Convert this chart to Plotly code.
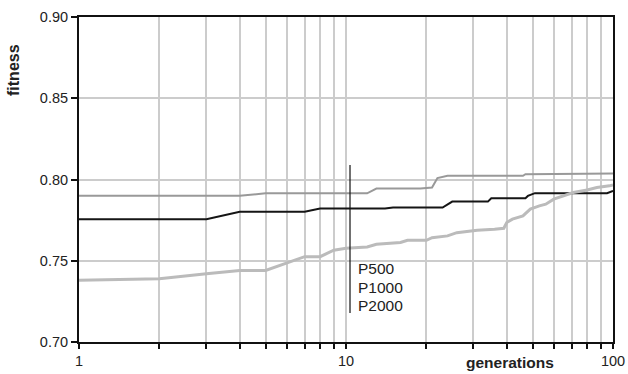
import plotly.graph_objects as go

# ---- data ----
gen_p500 = [1, 4, 5, 12, 13, 19, 21, 22, 24, 46, 47, 73, 74, 100]
fit_p500 = [0.790, 0.790, 0.7915, 0.7915, 0.7944, 0.7944, 0.7951, 0.8009, 0.8023,
            0.8023, 0.8033, 0.8033, 0.8037, 0.8037]

gen_p1000 = [1, 3, 4, 7, 8, 14, 15, 23, 25, 34, 35, 47, 48, 51, 95, 100]
fit_p1000 = [0.7756, 0.7756, 0.7801, 0.7801, 0.7821, 0.7821, 0.7827, 0.7827, 0.7864,
             0.7864, 0.7885, 0.7885, 0.7899, 0.7916, 0.7916, 0.7930]

gen_p2000 = [1, 2, 3, 4, 5, 7, 8, 9, 10, 12, 13, 16, 17, 20, 21, 24, 26, 31, 36, 39,
             40, 42, 46, 49, 53, 56, 60, 65, 71, 80, 87, 97, 100]
fit_p2000 = [0.738, 0.739, 0.742, 0.744, 0.744, 0.7525, 0.7525, 0.7565, 0.7577, 0.7585,
             0.7601, 0.7612, 0.7626, 0.7626, 0.7642, 0.7653, 0.7673, 0.7688, 0.7694,
             0.7700, 0.7735, 0.7756, 0.7776, 0.7818, 0.7838, 0.7848, 0.7879, 0.7900,
             0.7920, 0.7935, 0.7951, 0.7961, 0.7967]

series_names = ["P500", "P1000", "P2000"]
x_tickvals = [1, 2, 3, 4, 5, 6, 7, 8, 9, 10, 20, 30, 40, 50, 60, 70, 80, 90, 100]
x_ticktext = ["1", "", "", "", "", "", "", "", "", "10", "", "", "", "", "", "", "", "", "100"]
y_tickvals = [0.70, 0.75, 0.80, 0.85, 0.90]

FONT = "Liberation Sans, Arial, sans-serif"

fig = go.Figure()
fig.add_trace(go.Scatter(x=gen_p500, y=fit_p500, mode="lines", name=series_names[0],
                         line=dict(color="#999999", width=2)))
fig.add_trace(go.Scatter(x=gen_p1000, y=fit_p1000, mode="lines", name=series_names[1],
                         line=dict(color="#151515", width=2)))
fig.add_trace(go.Scatter(x=gen_p2000, y=fit_p2000, mode="lines", name=series_names[2],
                         line=dict(color="#bbbbbb", width=3)))

fig.update_layout(
    width=628, height=374,
    margin=dict(l=79, r=15, t=17, b=32, autoexpand=False),
    paper_bgcolor="white", plot_bgcolor="white",
    showlegend=False,
    font=dict(family=FONT, size=14.5, color="#222222"),
)
fig.update_xaxes(
    type="log", range=[0, 2], automargin=False,
    tickvals=x_tickvals, ticktext=x_ticktext,
    showgrid=True, gridcolor="#cccccc", gridwidth=1.5,
    showline=True, linecolor="#111111", linewidth=2, mirror=True,
    ticks="outside", ticklen=5, tickwidth=1.5, tickcolor="#111111",
    zeroline=False,
)
fig.update_yaxes(
    range=[0.70, 0.90], automargin=False,
    tickvals=y_tickvals, tickformat=".2f",
    showgrid=True, gridcolor="#cccccc", gridwidth=1.5,
    showline=True, linecolor="#111111", linewidth=2, mirror=True,
    ticks="outside", ticklen=6, tickwidth=1.5, tickcolor="#111111",
    zeroline=False,
)

# legend-like labels with vertical rule
fig.add_shape(type="line", xref="paper", yref="paper",
              x0=0.5075, x1=0.5075, y0=0.0892, y1=0.5446,
              line=dict(color="#111111", width=1.2))
for i, (name, yp) in enumerate(zip(series_names, [0.226, 0.169, 0.112])):
    fig.add_annotation(text=name, xref="paper", yref="paper", x=0.5187, y=yp,
                       xanchor="left", yanchor="middle", showarrow=False,
                       font=dict(family=FONT, size=15.5, color="#222222"))

# axis titles
fig.add_annotation(text="<b>fitness</b>", xref="paper", yref="paper",
                   x=-0.1217, y=0.837, textangle=-90, showarrow=False,
                   xanchor="center", yanchor="middle",
                   font=dict(family=FONT, size=16, color="#222222"))
fig.add_annotation(text="<b>generations</b>", xref="paper", yref="paper",
                   x=0.807, y=-0.064, showarrow=False,
                   xanchor="center", yanchor="middle",
                   font=dict(family=FONT, size=15.5, color="#222222"))

fig.write_html("out.html",
               config={"displayModeBar": False},
               post_script="document.body.style.margin='0px';"
                           "document.body.style.overflow='hidden';")
